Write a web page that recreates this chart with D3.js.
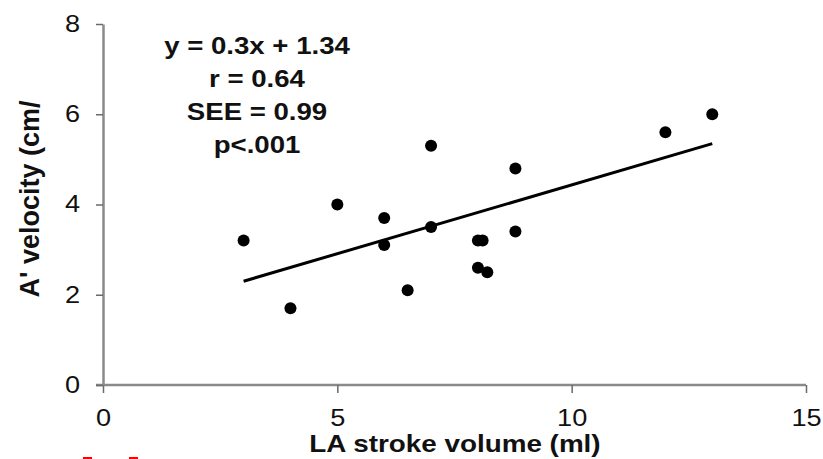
<!DOCTYPE html>
<html>
<head>
<meta charset="utf-8">
<script src="https://cdn.jsdelivr.net/npm/d3@7"></script>
<style>
  body { margin: 0; background: #fff; }
  svg { display: block; font-family: "Liberation Sans", Arial, sans-serif; }
</style>
</head>
<body>
<script>
const w = 823;
const h = 459;
const plot = { left: 103, right: 806, top: 24, bottom: 385 };

// LA stroke volume (ml) vs A' velocity
const strokeVolume = [3, 4, 5, 6, 6, 6.5, 7, 7, 8, 8.1, 8, 8.2, 8.8, 8.8, 12, 13];
const aVelocity = [3.2, 1.7, 4.0, 3.7, 3.1, 2.1, 5.3, 3.5, 3.2, 3.2, 2.6, 2.5, 4.8, 3.4, 5.6, 6.0];

// regression line ends, as drawn
const fitX = [3, 13];
const fitY = [2.3, 5.35];

const xTicks = [0, 5, 10, 15];
const yTicks = [0, 2, 4, 6, 8];
const statLines = ['y = 0.3x + 1.34', 'r = 0.64', 'SEE = 0.99', 'p<.001'];

const sx = 1.18; // text in the picture is a bit wide

const xScale = d3.scaleLinear().domain([0, 15]).range([plot.left, plot.right]);
const yScale = d3.scaleLinear().domain([0, 8]).range([plot.bottom, plot.top]);

const svg = d3.select('body')
  .append('svg')
  .attr('width', w)
  .attr('height', h);

// axes
const xAxis = svg.append('g')
  .attr('transform', `translate(0,${plot.bottom})`)
  .call(d3.axisBottom(xScale).tickValues(xTicks).tickSize(8).tickSizeOuter(0).tickPadding(17));

const yAxis = svg.append('g')
  .attr('transform', `translate(${plot.left},0)`)
  .call(d3.axisLeft(yScale).tickValues(yTicks).tickSize(7).tickSizeOuter(0));

[xAxis, yAxis].forEach(g => {
  g.select('.domain').attr('stroke', '#8a8a8a').attr('stroke-width', 2.5);
  g.selectAll('.tick line').attr('stroke', '#6a6a6a').attr('stroke-width', 1.5);
  g.selectAll('.tick text')
    .attr('fill', '#111')
    .style('font-size', '23px')
    .style('font-family', '"Liberation Sans", Arial, sans-serif');
});

// extend x axis line a bit past the y axis like the original
xAxis.select('.domain').attr('d', `M${plot.left - 7},0H${plot.right}`);

xAxis.selectAll('.tick text')
  .attr('transform', `scale(${sx},1)`)
  .attr('dy', '0.71em');

yAxis.selectAll('.tick text')
  .attr('x', -23 / sx)
  .attr('transform', `scale(${sx},1)`);

// regression line
svg.append('line')
  .attr('x1', xScale(fitX[0]))
  .attr('y1', yScale(fitY[0]))
  .attr('x2', xScale(fitX[1]))
  .attr('y2', yScale(fitY[1]))
  .attr('stroke', '#000')
  .attr('stroke-width', 3);

// points
svg.selectAll('circle.pt')
  .data(strokeVolume)
  .enter()
  .append('circle')
  .attr('class', 'pt')
  .attr('cx', (d) => xScale(d))
  .attr('cy', (d, i) => yScale(aVelocity[i]))
  .attr('r', 6)
  .attr('fill', '#000');

// stats text
svg.selectAll('text.stat')
  .data(statLines)
  .enter()
  .append('text')
  .attr('class', 'stat')
  .attr('transform', (d, i) => `translate(257,${53.5 + i * 33.3}) scale(1.15,1)`)
  .attr('text-anchor', 'middle')
  .style('font-size', '24px')
  .style('font-weight', 'bold')
  .attr('fill', '#111')
  .text((d) => d);

// axis titles
svg.append('text')
  .attr('transform', `translate(455,452) scale(1.16,1)`)
  .attr('text-anchor', 'middle')
  .style('font-size', '24px')
  .style('font-weight', 'bold')
  .attr('fill', '#111')
  .text('LA stroke volume (ml)');

svg.append('text')
  .attr('transform', 'translate(39,199) rotate(-90)')
  .attr('text-anchor', 'middle')
  .style('font-size', '27px')
  .style('font-weight', 'bold')
  .attr('fill', '#111')
  .text("A' velocity (cm/");

// small red marks at the bottom edge of the scan
svg.selectAll('rect.mark')
  .data([83, 129])
  .enter()
  .append('rect')
  .attr('x', (d) => d)
  .attr('y', 457)
  .attr('width', 9)
  .attr('height', 2)
  .attr('fill', '#f00');
</script>
</body>
</html>
